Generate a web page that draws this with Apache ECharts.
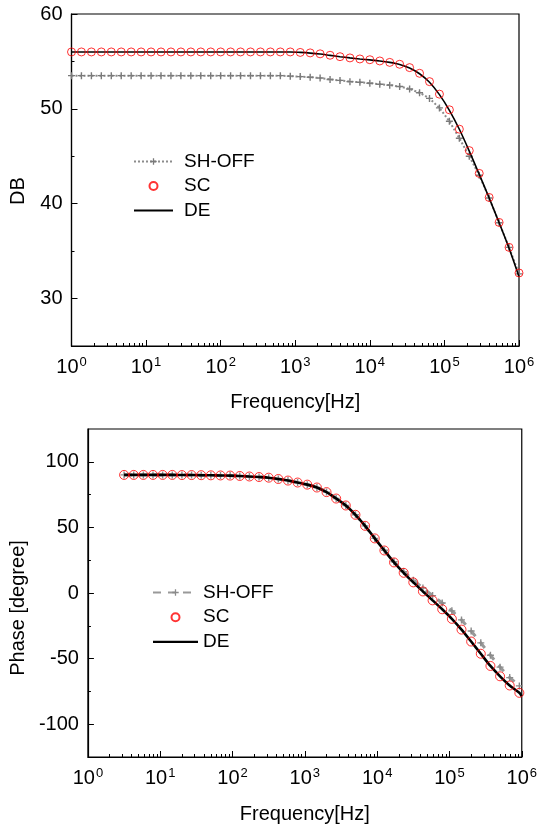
<!DOCTYPE html>
<html>
<head>
<meta charset="utf-8">
<script src="https://cdn.jsdelivr.net/npm/echarts@6/dist/echarts.min.js"></script>
<style>
  html, body { margin: 0; padding: 0; background: #fff; }
  #chart { width: 540px; height: 826px; }
</style>
</head>
<body>
<div id="chart"></div>
<script>
  // magnitude plot (top)
  const freqTop = [1, 1.359, 1.848, 2.512, 3.415, 4.642, 6.31, 8.577, 11.66, 15.85, 21.54, 29.29, 39.81, 54.12, 73.56, 100,
    135.9, 184.8, 251.2, 341.5, 464.2, 631, 857.7, 1166, 1585, 2154, 2929, 3981, 5412, 7356, 10000,
    13590, 18480, 25120, 34150, 46420, 63100, 85770, 116600, 158500, 215400, 292900, 398100, 541200, 735600, 1000000]
  const dbShOff = [53.5, 53.5, 53.5, 53.5, 53.5, 53.5, 53.5, 53.5, 53.5, 53.5, 53.5, 53.5, 53.5, 53.5, 53.5, 53.5,
    53.5, 53.5, 53.5, 53.5, 53.5, 53.5, 53.45, 53.4, 53.33, 53.25, 53.1, 53.0, 52.87, 52.8, 52.7,
    52.6, 52.5, 52.35, 52.1, 51.7, 51.1, 50.1, 48.7, 46.9, 45.0, 43.0, 40.6, 38.0, 35.4, 32.6]
  const dbSc = [56, 56, 56, 56, 56, 56, 56, 56, 56, 56, 56, 56, 56, 56, 56, 56,
    56, 56, 56, 56, 56, 56, 56, 55.95, 55.9, 55.8, 55.65, 55.5, 55.37, 55.26, 55.18,
    55.05, 54.9, 54.7, 54.35, 53.75, 52.87, 51.55, 49.9, 47.86, 45.6, 43.2, 40.66, 38.03, 35.4, 32.7]
  const dbDe = [56, 56, 56, 56, 56, 56, 56, 56, 56, 56, 56, 56, 56, 56, 56, 56,
    56, 56, 56, 56, 56, 56, 56, 55.95, 55.88, 55.78, 55.64, 55.5, 55.37, 55.26, 55.16,
    55.05, 54.9, 54.68, 54.3, 53.7, 52.8, 51.5, 49.85, 47.85, 45.55, 43.1, 40.6, 38.0, 35.3, 32.3]

  // phase plot (bottom)
  const freqBottom = [3.162, 4.297, 5.843, 7.943, 10.8, 14.68, 19.95, 27.12, 36.87, 50.12, 68.13, 92.62, 125.9, 171.1, 232.6, 316.2,
    429.7, 584.3, 794.3, 1080, 1468, 1995, 2712, 3687, 5012, 6813, 9262, 12590, 17110, 23260, 31620,
    42970, 58430, 79430, 108000, 146800, 199500, 271200, 368700, 501200, 681300, 926200]
  const freqBottomDe = [3.162, 4.297, 5.843, 7.943, 10.8, 14.68, 19.95, 27.12, 36.87, 50.12, 68.13, 92.62, 125.9, 171.1, 232.6, 316.2,
    429.7, 584.3, 794.3, 1080, 1468, 1995, 2712, 3687, 5012, 6813, 9262, 12590, 17110, 23260, 31620,
    42970, 58430, 79430, 108000, 146800, 199500, 271200, 368700, 501200, 681300, 926200, 1000000]
  const phaseShOff = [90, 90, 90, 90, 90, 90, 89.9, 89.9, 89.8, 89.7, 89.6, 89.5, 89.2, 88.8, 88.4, 87.9,
    86.9, 85.7, 84.2, 82.6, 80.4, 76.9, 72.0, 66.7, 59.6, 51.2, 41.6, 32.6, 23.8, 16.3, 9.8,
    3.8, -2.0, -7.6, -13.6, -20.5, -29.0, -38.0, -47.5, -56.5, -64.5, -70.8]
  const phaseSc = [90, 90, 90, 90, 90, 90, 89.9, 89.9, 89.8, 89.7, 89.6, 89.5, 89.2, 88.8, 88.4, 87.9,
    86.9, 85.7, 84.2, 82.6, 80.4, 76.9, 72.0, 66.7, 59.6, 51.2, 41.6, 32.4, 23.3, 15.4, 8.1,
    1.2, -5.6, -12.4, -19.7, -27.9, -37.0, -46.3, -55.6, -63.5, -70.5, -76.1]
  const phaseDe = [90, 90, 90, 90, 90, 90, 89.9, 89.9, 89.8, 89.7, 89.6, 89.5, 89.2, 88.8, 88.4, 87.9,
    86.9, 85.7, 84.2, 82.6, 80.4, 76.9, 72.0, 66.7, 59.6, 51.2, 41.6, 32.4, 23.3, 15.4, 8.1,
    1.2, -5.6, -12.4, -19.7, -27.9, -37.0, -46.3, -55.6, -63.5, -70.5, -76.1, -78.7]

  // ticks
  const decadeTicks = [1, 10, 100, 1000, 10000, 100000, 1000000]
  const minorFreqTicks = [2, 3, 4, 5, 6, 7, 8, 9, 20, 30, 40, 50, 60, 70, 80, 90,
    200, 300, 400, 500, 600, 700, 800, 900, 2000, 3000, 4000, 5000, 6000, 7000, 8000, 9000,
    20000, 30000, 40000, 50000, 60000, 70000, 80000, 90000, 200000, 300000, 400000, 500000, 600000, 700000, 800000, 900000]
  const dbTicks = [30, 40, 50, 60]
  const dbMinorTicks = [35, 45, 55]
  const phaseTicks = [-100, -50, 0, 50, 100]
  const phaseMinorTicks = [-75, -25, 25, 75]

  const FONT = 'Liberation Sans, Arial, sans-serif'
  const crossSymbol = 'path://M4,0h2v4h4v2h-4v4h-2v-4h-4v-2h4z'
  const lineIcon = 'path://M0,0h40v2h-40z'

  function pairs(xs, ys) {
    return xs.map((x, i) => [x, ys[i]])
  }

  function freqAxis(gridIndex, nameGap) {
    return {
      type: 'log', logBase: 10, gridIndex, min: 1, max: 1000000, position: 'bottom',
      name: 'Frequency[Hz]', nameLocation: 'middle', nameGap,
      nameTextStyle: { fontFamily: FONT, fontSize: 20, color: '#000' },
      axisLine: { show: true, onZero: false, lineStyle: { color: '#000', width: 1.2 } },
      axisTick: { show: true, inside: true, length: 6, customValues: decadeTicks, lineStyle: { color: '#000' } },
      axisLabel: {
        customValues: decadeTicks, margin: 10, color: '#000',
        formatter: (v) => '{b|10}{s|' + Math.round(Math.log10(v)) + '}',
        rich: {
          b: { fontFamily: FONT, fontSize: 20, color: '#000' },
          s: { fontFamily: FONT, fontSize: 13, color: '#000', padding: [0, 0, 10, 1] },
        },
      },
      splitLine: { show: false },
    }
  }
  function minorFreqAxis(gridIndex) {
    return {
      type: 'log', logBase: 10, gridIndex, min: 1, max: 1000000, position: 'bottom',
      axisLine: { show: false, onZero: false }, axisLabel: { show: false }, splitLine: { show: false },
      axisTick: { show: true, inside: true, length: 3, customValues: minorFreqTicks, lineStyle: { color: '#000' } },
    }
  }
  function valueAxis(gridIndex, min, max, ticks, name, nameGap, shift) {
    return {
      type: 'value', gridIndex, min, max, position: 'left',
      name, nameLocation: 'middle', nameGap,
      nameTextStyle: { fontFamily: FONT, fontSize: 20, color: '#000', padding: [0, shift, 0, 0] },
      axisLine: { show: true, onZero: false, lineStyle: { color: '#000', width: 1.2 } },
      axisTick: { show: true, inside: true, length: 6, customValues: ticks, lineStyle: { color: '#000' } },
      axisLabel: { customValues: ticks, margin: 9, fontFamily: FONT, fontSize: 20, color: '#000' },
      splitLine: { show: false },
    }
  }
  function minorValueAxis(gridIndex, min, max, ticks) {
    return {
      type: 'value', gridIndex, min, max, position: 'left',
      axisLine: { show: false, onZero: false }, axisLabel: { show: false }, splitLine: { show: false },
      axisTick: { show: true, inside: true, length: 3, customValues: ticks, lineStyle: { color: '#000' } },
    }
  }

  const chart = echarts.init(document.getElementById('chart'), null, { renderer: 'canvas' })
  chart.setOption({
    animation: false,
    backgroundColor: '#fff',
    textStyle: { fontFamily: FONT },
    grid: [
      { left: 71, top: 14, width: 448, height: 332, show: true, borderColor: '#000', borderWidth: 1.2 },
      { left: 82, top: 429, width: 441, height: 328, show: true, borderColor: '#000', borderWidth: 1.2 },
    ],
    xAxis: [freqAxis(0, 46), minorFreqAxis(0), freqAxis(1, 47), minorFreqAxis(1)],
    yAxis: [
      valueAxis(0, 25, 60, dbTicks, 'DB', 43.5, 22),
      minorValueAxis(0, 25, 60, dbMinorTicks),
      valueAxis(1, -125, 125, phaseTicks, 'Phase [degree]', 57, 30),
      minorValueAxis(1, -125, 125, phaseMinorTicks),
    ],
    legend: [
      {
        orient: 'vertical', left: 133, top: 152, padding: 0, itemWidth: 39, itemHeight: 8, itemGap: 5.5,
        textStyle: { fontFamily: FONT, fontSize: 19, color: '#000', padding: [0, 0, 0, 6] },
        data: ['SH-OFF', 'SC', { name: 'DE', icon: lineIcon }],
      },
      {
        orient: 'vertical', left: 152, top: 583, padding: 0, itemWidth: 45, itemHeight: 8, itemGap: 5.7,
        textStyle: { fontFamily: FONT, fontSize: 19, color: '#000' },
        data: ['SH-OFF ', 'SC ', { name: 'DE ', icon: lineIcon }],
      },
    ],
    series: [
      {
        name: 'SH-OFF', type: 'line', xAxisIndex: 0, yAxisIndex: 0, data: pairs(freqTop, dbShOff),
        symbol: crossSymbol, symbolSize: 7, showAllSymbol: true,
        itemStyle: { color: '#7a7a7a' }, lineStyle: { color: '#8c8c8c', width: 2, type: 'dotted' }, z: 2,
      },
      {
        name: 'SC', type: 'scatter', xAxisIndex: 0, yAxisIndex: 0, data: pairs(freqTop, dbSc),
        symbol: 'circle', symbolSize: 8,
        itemStyle: { color: 'transparent', borderColor: '#ff0000', borderWidth: 1 }, z: 4,
      },
      {
        name: 'DE', type: 'line', xAxisIndex: 0, yAxisIndex: 0, data: pairs(freqTop, dbDe),
        symbol: 'none', smooth: 0.3, itemStyle: { color: '#000' }, lineStyle: { color: '#000', width: 1.6 }, z: 3,
      },
      {
        name: 'SH-OFF ', type: 'line', xAxisIndex: 2, yAxisIndex: 2, data: pairs(freqBottom, phaseShOff),
        symbol: crossSymbol, symbolSize: 7, showAllSymbol: true,
        itemStyle: { color: '#8a8a8a' }, lineStyle: { color: '#999999', width: 3, type: [8, 7] }, z: 2,
      },
      {
        name: 'SC ', type: 'scatter', xAxisIndex: 2, yAxisIndex: 2, data: pairs(freqBottom, phaseSc),
        symbol: 'circle', symbolSize: 9,
        itemStyle: { color: 'transparent', borderColor: '#ff0000', borderWidth: 1 }, z: 4,
      },
      {
        name: 'DE ', type: 'line', xAxisIndex: 2, yAxisIndex: 2, data: pairs(freqBottomDe, phaseDe),
        symbol: 'none', smooth: 0.3, itemStyle: { color: '#000' }, lineStyle: { color: '#000', width: 2.6 }, z: 3,
      },
    ],
  })
</script>
</body>
</html>
